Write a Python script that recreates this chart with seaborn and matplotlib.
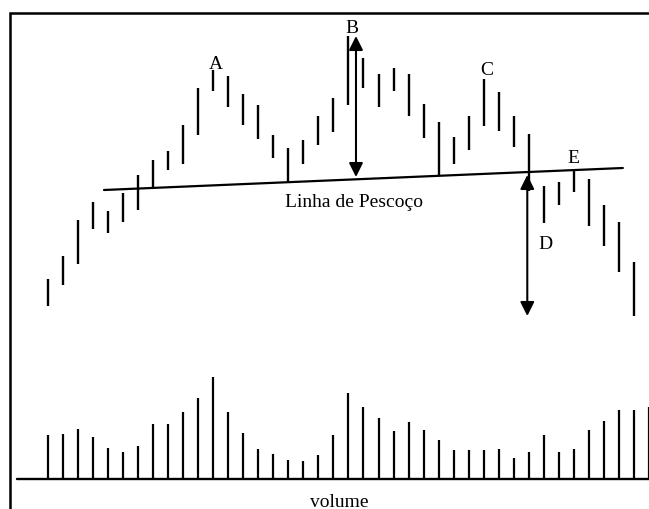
import matplotlib
matplotlib.use("Agg")
import matplotlib.pyplot as plt
from matplotlib.patches import Rectangle
import seaborn as sns

# price bars (arbitrary price scale), one per period
highs = [50, 73, 109, 127, 118, 136, 154, 169, 178, 204, 241, 259, 253, 235, 224, 194, 181, 189, 213, 231,
         293, 271, 255, 261, 255, 225, 207, 192, 213, 250, 237, 213, 195, 143, 147, 160, 150, 124, 107, 67]
lows = [23, 44, 65, 100, 96, 107, 119, 140, 159, 165, 194, 238, 222, 204, 190, 171, 147, 165, 184, 197,
        224, 241, 222, 238, 213, 191, 154, 165, 179, 203, 198, 182, 138, 106, 124, 137, 103, 83, 57, 13]

# volume, one per period (last one cut by the frame)
volume = [44, 45, 50, 42, 31, 27, 33, 55, 55, 67, 81, 102, 67, 46, 30, 25, 19, 18, 24, 44, 86,
          72, 61, 48, 57, 49, 39, 29, 29, 29, 30, 21, 27, 44, 27, 30, 49, 58, 69, 69, 72]

# neckline end points
neck_x = [3.73, 38.26]
neck_y = [139, 161]

# measured moves (x, from, to)
arrow_b = (20.5, 152, 293)
arrow_d = (31.9, 154, 13)

# point labels
labels = ["A", "B", "C", "D", "E"]
label_x = [11.2, 20.2, 29.2, 33.1, 35.0]
label_y = [261, 297, 255, 81, 167]

sns.set_theme(style="white")
plt.rcParams["font.family"] = ["Liberation Serif", "DejaVu Serif"]
plt.rcParams["text.color"] = "black"

fig = plt.figure(figsize=(6.49, 5.10), dpi=100)
ax = fig.add_axes([0, 0, 1, 1])
axv = fig.add_axes([0, 0, 1, 1])
for a in (ax, axv):
    a.set_facecolor("none")
    a.set_axis_off()

# --- volume ---
tv = list(range(len(volume)))
axv.vlines(tv, 0, volume, color="black", lw=1.6)
axv.axhline(0, xmin=17 / 649, xmax=1, color="black", lw=1.7)
axv.text(19.4, -27, "volume", ha="center", va="baseline", fontsize=14, color="black")
axv.set_xlim(-3.19, 40.0)
axv.set_ylim(-30, 480)

# --- price ---
t = list(range(len(highs)))
ax.vlines(t, lows, highs, color="black", lw=1.7)
sns.lineplot(x=neck_x, y=neck_y, color="black", lw=1.6, ax=ax)
ax.text(20.4, 123, "Linha de Pescoço", ha="center", va="baseline", fontsize=14, color="black")

for x, y0, y1 in (arrow_b, arrow_d):
    ax.annotate("", xy=(x, y1), xytext=(x, y0),
                arrowprops=dict(arrowstyle="<|-|>,head_length=0.6,head_width=0.3",
                                mutation_scale=14, lw=1.5, color="black",
                                shrinkA=0, shrinkB=0))

for lab, x, y in zip(labels, label_x, label_y):
    ax.text(x, y, lab, ha="center", va="baseline", fontsize=14, color="black")

ax.set_xlim(-3.19, 40.0)
ax.set_ylim(-180, 330)

# frame (only top and left edges fall inside the picture)
fig.add_artist(Rectangle((10 / 649, -0.5), 2, 496 / 510 + 0.5, transform=fig.transFigure,
                         fill=False, lw=1.8, edgecolor="black"))

fig.savefig("out.png", dpi=100)
